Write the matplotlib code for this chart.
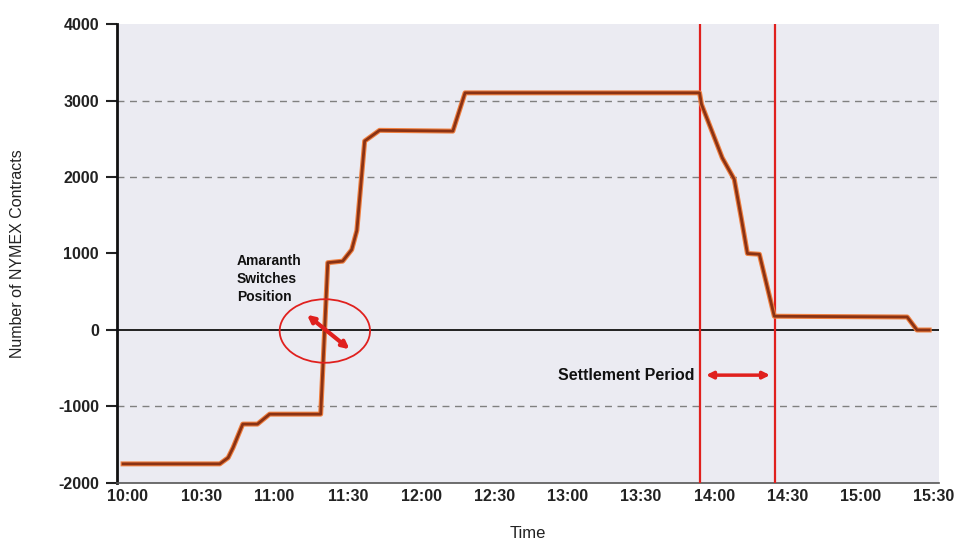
import matplotlib
matplotlib.use('Agg')
import matplotlib.pyplot as plt
from matplotlib.patches import Ellipse

# minutes after 10:00 and net position (contracts)
minutes = [-2, 37.6, 41, 43, 47, 53, 58, 78.9, 81.8, 87.9, 91.6, 93.7, 96.9, 103, 133, 138,
           234, 234.8, 243.3, 248.2, 251.1, 253.6, 258.5, 264.6, 319, 323, 328]
contracts = [-1750, -1750, -1670, -1540, -1230, -1230, -1100, -1100, 880, 900, 1050, 1300,
             2470, 2610, 2600, 3100, 3100, 2950, 2250, 1970, 1460, 1000, 990, 180, 170, 0, 0]

tick_minutes = list(range(0, 331, 30))
tick_labels = ['10:00', '10:30', '11:00', '11:30', '12:00', '12:30', '13:00',
               '13:30', '14:00', '14:30', '15:00', '15:30']
y_ticks = [-2000, -1000, 0, 1000, 2000, 3000, 4000]
dashed_levels = [3000, 2000, -1000]
settle_start, settle_end = 234, 265

plt.rcParams['font.family'] = ['Liberation Sans', 'DejaVu Sans']

fig = plt.figure(figsize=(9.58, 5.43), dpi=100)
ax = fig.add_axes([0.1221, 0.1105, 0.858, 0.8453])
ax.set_facecolor('#ebebf2')

for lvl in dashed_levels:
    ax.axhline(lvl, color='#808080', linestyle=(0, (5, 4)), linewidth=1.0, zorder=1)
ax.axhline(0, color='#111111', linewidth=1.3, zorder=2)

ax.axvline(settle_start, color='#e0201e', linewidth=1.6, zorder=3)
ax.axvline(settle_end, color='#e0201e', linewidth=1.6, zorder=3)

ax.plot(minutes, contracts, color='#f08040', linewidth=3.6, solid_joinstyle='round', zorder=4)
ax.plot(minutes, contracts, color='#8a3214', linewidth=2.0, solid_joinstyle='round', zorder=5)

ax.set_xlim(-4.5, 332)
ax.set_ylim(-2000, 4000)
ax.set_xticks(tick_minutes)
ax.set_xticklabels(tick_labels)
ax.set_yticks(y_ticks)
ax.set_yticklabels([str(v) for v in y_ticks])

for s in ['top', 'right']:
    ax.spines[s].set_visible(False)
ax.spines['left'].set_color('#111111')
ax.spines['left'].set_linewidth(2)
ax.spines['bottom'].set_color('#555555')
ax.spines['bottom'].set_linewidth(1.2)
ax.tick_params(axis='x', length=0, pad=4, labelsize=11.5, colors='#222222')
ax.tick_params(axis='y', length=8, width=1.5, direction='out', pad=5, labelsize=11.5,
               colors='#222222')
for lab in ax.get_xticklabels() + ax.get_yticklabels():
    lab.set_fontweight('bold')

ax.set_xlabel('Time', fontsize=12, color='#222222', labelpad=16)
ax.set_ylabel('Number of NYMEX Contracts', fontsize=11.5, color='#222222', labelpad=24)

# annotation: position switch
ax.text(44.5, 990, 'Amaranth\nSwitches\nPosition', fontsize=10, fontweight='bold',
        va='top', ha='left', linespacing=1.35, color='#111111')
ax.add_patch(Ellipse((80.6, -13), 37, 830, fill=False, edgecolor='#e0201e', linewidth=1.3,
                     zorder=6))
ax.annotate('', xy=(91.6, -275), xytext=(72.4, 222),
            arrowprops=dict(arrowstyle='<|-|>', color='#e0201e', lw=3, mutation_scale=10),
            zorder=7)

# annotation: settlement period
ax.text(232, -590, 'Settlement Period', fontsize=11.5, fontweight='bold', ha='right',
        va='center', color='#111111')
ax.annotate('', xy=(264, -590), xytext=(235.5, -590),
            arrowprops=dict(arrowstyle='<|-|>', color='#e0201e', lw=2.5, mutation_scale=10))

fig.savefig('out.png', dpi=100)
